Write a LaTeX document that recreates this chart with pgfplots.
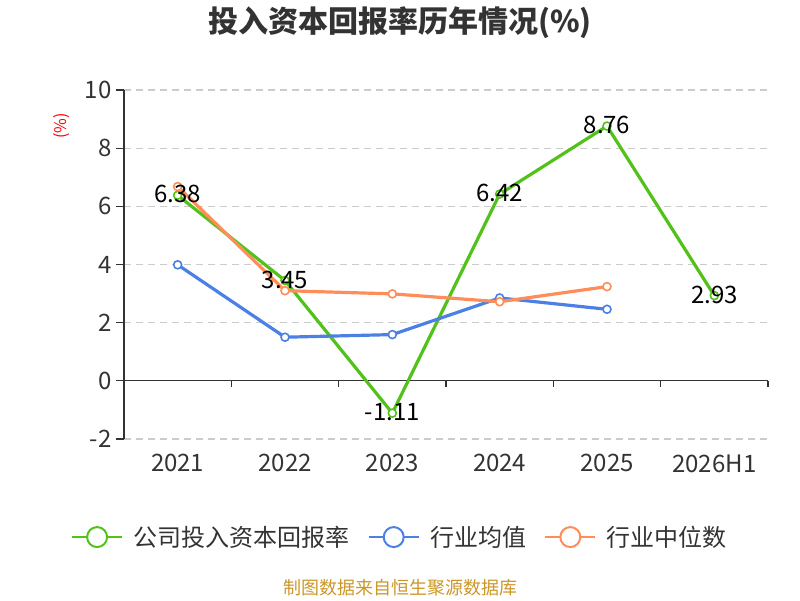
\documentclass[border=0pt]{standalone}
\usepackage{pgfplots}
\pgfplotsset{compat=1.18}
\usepackage{fontspec}
\setmainfont{Noto Sans CJK SC}
\definecolor{cgreen}{RGB}{82,194,26}
\definecolor{cblue}{RGB}{77,128,228}
\definecolor{corange}{RGB}{255,141,90}
\definecolor{ctext}{RGB}{51,51,51}
\definecolor{cgrid}{RGB}{204,204,204}
\definecolor{cfoot}{RGB}{204,150,40}
\begin{document}
\begin{tikzpicture}
\useasboundingbox (0,0) rectangle (800pt,600pt);
\node[font=\fontsize{30pt}{34pt}\selectfont\bfseries, text=ctext] at (400pt,577pt) {投入资本回报率历年情况(\%)};
\node[font=\fontsize{16pt}{19pt}\selectfont, text=red, rotate=90] at (62pt,474pt) {(\%)};
\node[font=\fontsize{18pt}{21pt}\selectfont, text=cfoot] at (400pt,12pt) {制图数据来自恒生聚源数据库};
\begin{axis}[
  at={(124pt,161pt)}, anchor=south west, scale only axis,
  width=644pt, height=349pt,
  xmin=-0.5, xmax=5.5, ymin=-2, ymax=10,
  xtick={0,...,5}, xticklabels={2021,2022,2023,2024,2025,2026H1},
  ytick={-2,0,2,4,6,8,10},
  axis x line*=bottom, axis y line*=left,
  x axis line style={draw=none},
  y axis line style={ctext, line width=1.3pt, -},
  xtick style={draw=none},
  ytick style={ctext, line width=1.3pt},
  tick align=outside, major tick length=8pt,
  ymajorgrids, grid style={cgrid, dash pattern=on 7pt off 5pt, line width=1.3pt},
  tick label style={font=\fontsize{24pt}{28pt}\selectfont, text=ctext},
  xticklabel style={yshift=-4pt},
  yticklabel style={xshift=-1pt},
  /pgf/number format/assume math mode=true,
  clip=false,
  legend columns=3,
  legend style={at={(0.4286,-0.281)}, anchor=center, draw=none, fill=none,
    font=\fontsize{24pt}{28pt}\selectfont, text=ctext,
    /tikz/every even column/.append style={column sep=16pt}},
]
\draw[ctext, line width=1.3pt] (axis cs:-0.5,0) -- (axis cs:5.5,0);
\pgfplotsinvokeforeach{0.5,1.5,2.5,3.5,4.5,5.5}{
  \draw[ctext, line width=1.3pt] (axis cs:#1,0) -- ++(0pt,-6pt);
}
\addplot[cgreen, line width=3.2pt, mark=*, mark size=4pt, mark options={fill=white, line width=1.6pt},
  legend image code/.code={\draw[cgreen, line width=2pt] (0pt,0pt) -- (50pt,0pt); \draw[cgreen, line width=2pt, fill=white] (25pt,0pt) circle (10pt); \path (58pt,0pt);}]
  coordinates {(0,6.38) (1,3.45) (2,-1.11) (3,6.42) (4,8.76) (5,2.93)};
\addlegendentry{公司投入资本回报率}
\addplot[cblue, line width=3.2pt, mark=*, mark size=4pt, mark options={fill=white, line width=1.6pt},
  legend image code/.code={\draw[cblue, line width=2pt] (0pt,0pt) -- (50pt,0pt); \draw[cblue, line width=2pt, fill=white] (25pt,0pt) circle (10pt); \path (58pt,0pt);}]
  coordinates {(0,3.99) (1,1.50) (2,1.59) (3,2.85) (4,2.46)};
\addlegendentry{行业均值}
\addplot[corange, line width=3.2pt, mark=*, mark size=4pt, mark options={fill=white, line width=1.6pt},
  legend image code/.code={\draw[corange, line width=2pt] (0pt,0pt) -- (50pt,0pt); \draw[corange, line width=2pt, fill=white] (25pt,0pt) circle (10pt); \path (58pt,0pt);}]
  coordinates {(0,6.68) (1,3.10) (2,2.99) (3,2.72) (4,3.24)};
\addlegendentry{行业中位数}
\addplot[draw=none, mark=none, forget plot,
  nodes near coords={\pgfmathprintnumber[fixed,precision=2]{\pgfplotspointmeta}},
  every node near coord/.append style={anchor=center, yshift=1pt, text=black, font=\fontsize{24pt}{28pt}\selectfont}]
  coordinates {(0,6.38) (1,3.45) (2,-1.11) (3,6.42) (4,8.76) (5,2.93)};
\end{axis}
\end{tikzpicture}
\end{document}
